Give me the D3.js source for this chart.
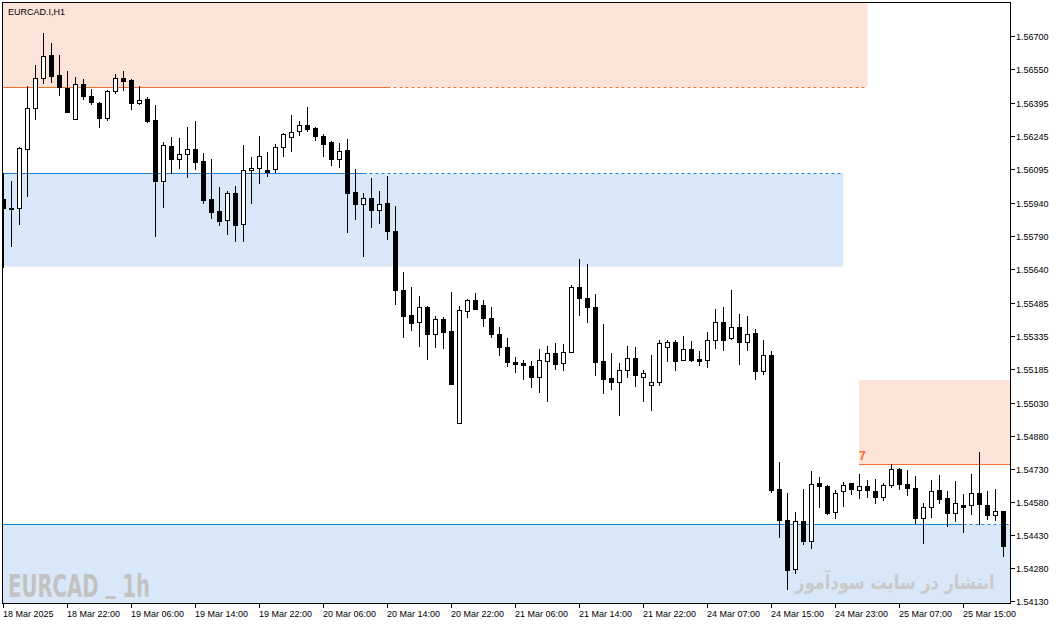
<!DOCTYPE html>
<html>
<head>
<meta charset="utf-8">
<script src="https://cdn.jsdelivr.net/npm/d3@7"></script>
<style>
  html, body { margin: 0; padding: 0; background: #fff; }
  svg { display: block; font-family: "Liberation Sans", Arial, sans-serif; }
</style>
</head>
<body>
<svg id="chart" width="1056" height="625"></svg>
<script>
"use strict";

// ── Data (EURCAD H1, one value per bar) ──────────────────────────────────────
const opens = [
  1.55958, 1.55918, 1.55916, 1.56185, 1.56371, 1.56508, 1.56614, 1.56523, 1.56463, 1.56321,
  1.56480, 1.56427, 1.56395, 1.56328, 1.56448, 1.56509, 1.56500, 1.56397, 1.56413, 1.56318,
  1.56039, 1.56198, 1.56139, 1.56162, 1.56186, 1.56131, 1.55958, 1.55904, 1.55862, 1.55986,
  1.55842, 1.56089, 1.56098, 1.56090, 1.56092, 1.56194, 1.56239, 1.56266, 1.56294, 1.56280,
  1.56245, 1.56216, 1.56139, 1.56180, 1.55989, 1.55934, 1.55962, 1.55907, 1.55939, 1.55812,
  1.55543, 1.55429, 1.55398, 1.55466, 1.55343, 1.55411, 1.55357, 1.54938, 1.55448, 1.55498,
  1.55475, 1.55416, 1.55343, 1.55284, 1.55216, 1.55211, 1.55197, 1.55146, 1.55220, 1.55257,
  1.55211, 1.55261, 1.55557, 1.55507, 1.55466, 1.55222, 1.55143, 1.55123, 1.55179, 1.55234,
  1.55150, 1.55111, 1.55123, 1.55284, 1.55308, 1.55225, 1.55275, 1.55231, 1.55227, 1.55316,
  1.55398, 1.55325, 1.55375, 1.55307, 1.55348, 1.55175, 1.55248, 1.54638, 1.54500, 1.54274,
  1.54492, 1.54400, 1.54665, 1.54652, 1.54533, 1.54629, 1.54665, 1.54633, 1.54652, 1.54629,
  1.54602, 1.54656, 1.54729, 1.54661, 1.54642, 1.54506, 1.54556, 1.54633, 1.54597, 1.54529,
  1.54565, 1.54565, 1.54620, 1.54565, 1.54520, 1.54538
];
const highs = [
  1.56077, 1.56040, 1.56195, 1.56473, 1.56568, 1.56712, 1.56667, 1.56614, 1.56541, 1.56513,
  1.56503, 1.56459, 1.56398, 1.56453, 1.56527, 1.56541, 1.56503, 1.56473, 1.56423, 1.56386,
  1.56218, 1.56241, 1.56236, 1.56286, 1.56313, 1.56168, 1.56140, 1.56013, 1.55995, 1.56018,
  1.56204, 1.56150, 1.56245, 1.56172, 1.56209, 1.56259, 1.56341, 1.56313, 1.56377, 1.56285,
  1.56253, 1.56222, 1.56212, 1.56230, 1.56094, 1.55984, 1.56053, 1.55994, 1.56062, 1.55925,
  1.55625, 1.55558, 1.55517, 1.55472, 1.55425, 1.55420, 1.55535, 1.55472, 1.55502, 1.55531,
  1.55498, 1.55467, 1.55376, 1.55325, 1.55238, 1.55225, 1.55220, 1.55276, 1.55288, 1.55302,
  1.55299, 1.55569, 1.55684, 1.55661, 1.55525, 1.55389, 1.55257, 1.55211, 1.55288, 1.55284,
  1.55179, 1.55249, 1.55317, 1.55317, 1.55317, 1.55334, 1.55313, 1.55267, 1.55353, 1.55457,
  1.55467, 1.55545, 1.55435, 1.55426, 1.55366, 1.55317, 1.55267, 1.54761, 1.54622, 1.54533,
  1.54638, 1.54721, 1.54694, 1.54656, 1.54633, 1.54670, 1.54665, 1.54708, 1.54679, 1.54685,
  1.54665, 1.54752, 1.54733, 1.54726, 1.54698, 1.54574, 1.54679, 1.54702, 1.54629, 1.54674,
  1.54615, 1.54706, 1.54806, 1.54629, 1.54638, 1.54538
];
const lows = [
  1.55649, 1.55746, 1.55845, 1.55974, 1.56324, 1.56488, 1.56492, 1.56433, 1.56356, 1.56321,
  1.56415, 1.56392, 1.56287, 1.56319, 1.56442, 1.56456, 1.56369, 1.56392, 1.56310, 1.55792,
  1.55924, 1.56075, 1.56101, 1.56060, 1.56096, 1.55942, 1.55873, 1.55842, 1.55801, 1.55769,
  1.55769, 1.55942, 1.56033, 1.56065, 1.56083, 1.56156, 1.56178, 1.56248, 1.56269, 1.56228,
  1.56156, 1.56115, 1.56105, 1.55810, 1.55866, 1.55701, 1.55830, 1.55848, 1.55778, 1.55480,
  1.55329, 1.55364, 1.55291, 1.55232, 1.55287, 1.55282, 1.55118, 1.54938, 1.55420, 1.55457,
  1.55382, 1.55332, 1.55250, 1.55200, 1.55173, 1.55141, 1.55105, 1.55082, 1.55041, 1.55184,
  1.55182, 1.55261, 1.55432, 1.55400, 1.55159, 1.55077, 1.55096, 1.54977, 1.55150, 1.55109,
  1.55041, 1.55000, 1.55114, 1.55223, 1.55182, 1.55225, 1.55223, 1.55205, 1.55196, 1.55282,
  1.55273, 1.55320, 1.55209, 1.55273, 1.55141, 1.55164, 1.54627, 1.54422, 1.54186, 1.54259,
  1.54391, 1.54372, 1.54559, 1.54527, 1.54509, 1.54563, 1.54618, 1.54600, 1.54604, 1.54577,
  1.54591, 1.54650, 1.54641, 1.54613, 1.54486, 1.54395, 1.54513, 1.54577, 1.54472, 1.54495,
  1.54445, 1.54527, 1.54481, 1.54504, 1.54500, 1.54336
];
const closes = [
  1.55918, 1.55913, 1.56191, 1.56371, 1.56508, 1.56609, 1.56519, 1.56467, 1.56356, 1.56480,
  1.56424, 1.56401, 1.56328, 1.56450, 1.56508, 1.56497, 1.56397, 1.56409, 1.56315, 1.56042,
  1.56203, 1.56137, 1.56162, 1.56185, 1.56128, 1.55955, 1.55901, 1.55860, 1.55984, 1.55842,
  1.56089, 1.56098, 1.56153, 1.56083, 1.56194, 1.56254, 1.56262, 1.56294, 1.56278, 1.56242,
  1.56210, 1.56139, 1.56176, 1.55984, 1.55934, 1.55962, 1.55907, 1.55934, 1.55812, 1.55543,
  1.55425, 1.55393, 1.55466, 1.55343, 1.55411, 1.55352, 1.55118, 1.55452, 1.55498, 1.55457,
  1.55415, 1.55341, 1.55282, 1.55214, 1.55209, 1.55200, 1.55146, 1.55225, 1.55257, 1.55209,
  1.55261, 1.55557, 1.55505, 1.55464, 1.55214, 1.55141, 1.55123, 1.55179, 1.55234, 1.55155,
  1.55166, 1.55125, 1.55302, 1.55308, 1.55223, 1.55275, 1.55223, 1.55223, 1.55316, 1.55398,
  1.55318, 1.55375, 1.55307, 1.55343, 1.55173, 1.55248, 1.54636, 1.54497, 1.54274, 1.54492,
  1.54400, 1.54661, 1.54650, 1.54527, 1.54620, 1.54656, 1.54638, 1.54652, 1.54632, 1.54600,
  1.54656, 1.54729, 1.54659, 1.54641, 1.54504, 1.54556, 1.54629, 1.54591, 1.54527, 1.54574,
  1.54554, 1.54620, 1.54568, 1.54520, 1.54538, 1.54381
];

// Right price scale labels
const priceTicks = [
  "1.56700", "1.56550", "1.56395", "1.56245", "1.56095", "1.55940", "1.55790", "1.55640", "1.55485",
  "1.55335", "1.55185", "1.55030", "1.54880", "1.54730", "1.54580", "1.54430", "1.54280", "1.54130"
];

// Time scale labels (bar index of each label)
const timeTickBars = [0, 8, 16, 24, 32, 40, 48, 56, 64, 72, 80, 88, 96, 104, 112, 120];
const timeTickLabels = [
  "18 Mar 2025", "18 Mar 22:00", "19 Mar 06:00", "19 Mar 14:00", "19 Mar 22:00", "20 Mar 06:00",
  "20 Mar 14:00", "20 Mar 22:00", "21 Mar 06:00", "21 Mar 14:00", "21 Mar 22:00", "24 Mar 07:00",
  "24 Mar 15:00", "24 Mar 23:00", "25 Mar 07:00", "25 Mar 15:00"
];

// Supply / demand zones
const zoneType   = ["supply", "demand", "supply", "demand"];
const zoneHigh   = [1.56860, 1.56075, 1.55135, 1.54479];
const zoneLow    = [1.56467, 1.55651, 1.54752, 1.54100];
const zoneFrom   = [0, 0, 107, 0];
const zoneTo     = [108, 105, 127, 127];
const zoneSolid  = [48, 45, 127, 120];
const zoneLabel  = ["", "", "7", ""];

const Chart = (() => {

  const W = 1056, H = 625;
  const plot = { left: 3, top: 3, right: 1010, bottom: 603 };
  const COLORS = {
    supplyFill: "#fce3d7",
    supplyLine: "#f26f2e",
    demandFill: "#d8e8f8",
    demandLine: "#1f80d8"
  };

  let svg, x, y;

  // ── Init ─────────────────────────────────────────────────────────────────────
  function init() {
    svg = d3.select("#chart")
      .attr("viewBox", `0 0 ${W} ${H}`);

    x = d3.scaleLinear().domain([0, 125]).range([3.5, 1003.5]);
    y = d3.scaleLinear().domain([1.5413, 1.5670]).range([601, 36]);

    svg.append("rect")
      .attr("width", W).attr("height", H)
      .attr("fill", "#fff");

    svg.append("clipPath").attr("id", "plotClip")
      .append("rect")
      .attr("x", plot.left).attr("y", plot.top)
      .attr("width", plot.right - plot.left)
      .attr("height", plot.bottom - plot.top);

    drawZones();
    drawWatermarks();
    drawCandles();
    drawFrame();
    drawPriceAxis();
    drawTimeAxis();

    svg.append("text")
      .attr("x", 8).attr("y", 15)
      .attr("font-size", "9px")
      .attr("fill", "#000")
      .text("EURCAD.I,H1");
  }

  const snap = v => Math.round(v) + 0.5;

  // ── Zones ────────────────────────────────────────────────────────────────────
  function drawZones() {
    const g = svg.append("g").attr("clip-path", "url(#plotClip)");
    const idx = d3.range(zoneType.length);
    const x0 = i => zoneFrom[i] === 0 ? plot.left : x(zoneFrom[i]) - 0.5;

    g.selectAll(".zone")
      .data(idx)
      .enter().append("rect")
      .attr("class", "zone")
      .attr("x", x0)
      .attr("y", i => y(zoneHigh[i]))
      .attr("width", i => x(zoneTo[i]) - x0(i))
      .attr("height", i => y(zoneLow[i]) - y(zoneHigh[i]))
      .attr("fill", i => zoneType[i] === "supply" ? COLORS.supplyFill : COLORS.demandFill);

    // edge line: solid part, then dotted continuation
    const edgeY = i => snap(zoneType[i] === "supply" ? y(zoneLow[i]) : y(zoneHigh[i]));
    const lineCol = i => zoneType[i] === "supply" ? COLORS.supplyLine : COLORS.demandLine;

    g.selectAll(".zone-solid")
      .data(idx)
      .enter().append("line")
      .attr("x1", x0)
      .attr("x2", i => Math.min(x(zoneSolid[i]), x(zoneTo[i])))
      .attr("y1", edgeY).attr("y2", edgeY)
      .attr("stroke", lineCol)
      .attr("stroke-width", 1);

    g.selectAll(".zone-dash")
      .data(idx.filter(i => zoneSolid[i] < zoneTo[i]))
      .enter().append("line")
      .attr("x1", i => x(zoneSolid[i]))
      .attr("x2", i => x(zoneTo[i]))
      .attr("y1", edgeY).attr("y2", edgeY)
      .attr("stroke", lineCol)
      .attr("stroke-width", 1)
      .attr("stroke-dasharray", "3,3");

    g.selectAll(".zone-label")
      .data(idx.filter(i => zoneLabel[i]))
      .enter().append("text")
      .attr("x", i => x(zoneFrom[i]) - 0.5)
      .attr("y", i => y(zoneLow[i]) - 4)
      .attr("font-size", "12px")
      .attr("font-weight", "bold")
      .attr("fill", COLORS.supplyLine)
      .text(i => zoneLabel[i]);
  }

  // ── Watermarks ───────────────────────────────────────────────────────────────
  function drawWatermarks() {
    const wm = svg.append("text")
      .attr("font-family", "'DejaVu Sans Condensed', 'Liberation Sans Narrow', sans-serif")
      .attr("font-size", "32px")
      .attr("font-weight", "bold")
      .attr("fill", "#c2c2c2");
    wm.append("tspan").text("EURCAD ");
    wm.append("tspan").attr("dy", -6).text("_");
    wm.append("tspan").attr("dy", 6).text(" 1h");

    // squeeze to the narrow look of the original
    const len = wm.node().getComputedTextLength() || 209;
    wm.attr("transform", `translate(8, 597) scale(${142 / len}, 1)`);

    // Persian credit, squeezed horizontally to the reference width
    svg.append("text")
      .attr("transform", "translate(895, 589) scale(0.81, 1)")
      .attr("text-anchor", "middle")
      .attr("font-family", "'DejaVu Sans', sans-serif")
      .attr("font-size", "20px")
      .attr("font-weight", "bold")
      .attr("fill", "#c9c9c9")
      .text("انتشار در سایت سودآموز");
  }

  // ── Candles ──────────────────────────────────────────────────────────────────
  function drawCandles() {
    const g = svg.append("g").attr("clip-path", "url(#plotClip)");
    const bars = d3.range(opens.length);

    g.selectAll(".wick")
      .data(bars)
      .enter().append("line")
      .attr("x1", i => x(i)).attr("x2", i => x(i))
      .attr("y1", i => Math.round(y(highs[i])))
      .attr("y2", i => Math.round(y(lows[i])) + 1)
      .attr("stroke", "#000")
      .attr("stroke-width", 1);

    g.selectAll(".body")
      .data(bars)
      .enter().append("rect")
      .attr("x", i => x(i) - 2)
      .attr("width", 4)
      .attr("y", i => snap(y(Math.max(opens[i], closes[i]))))
      .attr("height", i => Math.max(1, Math.round(y(Math.min(opens[i], closes[i])) - y(Math.max(opens[i], closes[i])))))
      .attr("fill", i => closes[i] > opens[i] ? "#fff" : "#000")
      .attr("stroke", "#000")
      .attr("stroke-width", 1);
  }

  // ── Frame ────────────────────────────────────────────────────────────────────
  function drawFrame() {
    svg.append("rect")
      .attr("x", plot.left - 0.5).attr("y", plot.top - 0.5)
      .attr("width", plot.right - plot.left + 1)
      .attr("height", plot.bottom - plot.top + 1)
      .attr("fill", "none")
      .attr("stroke", "#000")
      .attr("stroke-width", 1);
  }

  // ── Price axis (right) ───────────────────────────────────────────────────────
  function drawPriceAxis() {
    const g = svg.append("g");
    const items = g.selectAll(".ptick")
      .data(priceTicks)
      .enter().append("g")
      .attr("transform", d => `translate(0, ${snap(y(+d))})`);

    items.append("line")
      .attr("x1", plot.right + 0.5).attr("x2", plot.right + 5)
      .attr("stroke", "#000");

    items.append("text")
      .attr("x", plot.right + 6)
      .attr("dy", "0.35em")
      .attr("font-size", "9px")
      .attr("fill", "#000")
      .text(d => d);
  }

  // ── Time axis (bottom) ───────────────────────────────────────────────────────
  function drawTimeAxis() {
    const g = svg.append("g");
    const items = g.selectAll(".ttick")
      .data(timeTickBars)
      .enter().append("g")
      .attr("transform", b => `translate(${x(b)}, ${plot.bottom})`);

    items.append("line")
      .attr("y1", 0).attr("y2", 5)
      .attr("stroke", "#000");

    items.append("text")
      .attr("x", -0.5).attr("y", 14)
      .attr("font-size", "9px")
      .attr("fill", "#000")
      .text((b, i) => timeTickLabels[i]);
  }

  return { init };
})();

Chart.init();
</script>
</body>
</html>
